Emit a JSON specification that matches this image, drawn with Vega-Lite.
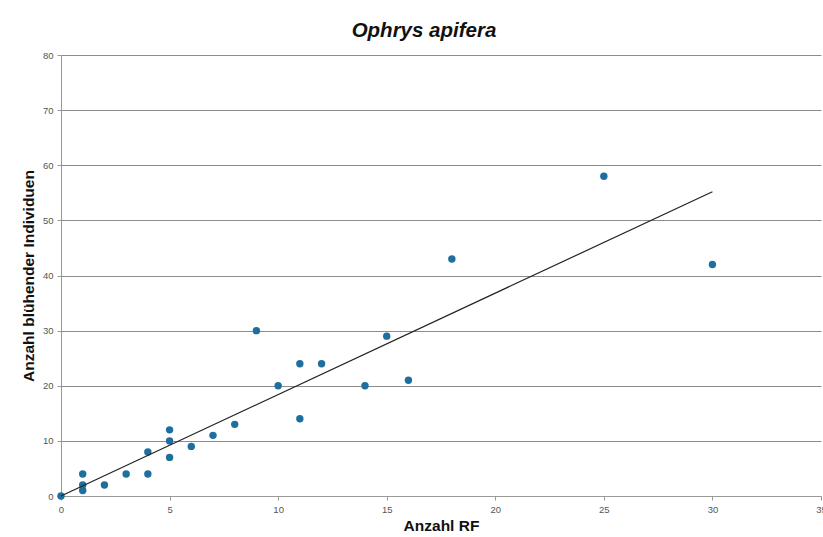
{
  "$schema": "https://vega.github.io/schema/vega-lite/v6.json",
  "width": 760,
  "height": 441,
  "autosize": "none",
  "padding": {"left": 61, "top": 55, "right": 2, "bottom": 41},
  "background": "white",
  "config": {
    "view": {"stroke": null},
    "axis": {"labelFont": "Liberation Sans", "labelFontSize": 9.5, "labelColor": "#555555", "titleFont": "Liberation Sans", "titleFontSize": 15.5, "titleFontWeight": "bold", "titleColor": "#111111"}
  },
  "title": {"text": "Ophrys apifera", "font": "Liberation Sans", "fontSize": 20.5, "fontStyle": "italic", "fontWeight": "bold", "color": "#111111", "anchor": "middle", "dx": -17, "offset": 9},
  "datasets": {
    "pts": [
      {"rf": 0, "ind": 0}, {"rf": 1, "ind": 4}, {"rf": 1, "ind": 2}, {"rf": 1, "ind": 1},
      {"rf": 2, "ind": 2}, {"rf": 3, "ind": 4}, {"rf": 4, "ind": 8}, {"rf": 4, "ind": 4},
      {"rf": 5, "ind": 12}, {"rf": 5, "ind": 10}, {"rf": 5, "ind": 7}, {"rf": 6, "ind": 9},
      {"rf": 7, "ind": 11}, {"rf": 8, "ind": 13}, {"rf": 9, "ind": 30}, {"rf": 10, "ind": 20},
      {"rf": 11, "ind": 24}, {"rf": 11, "ind": 14}, {"rf": 12, "ind": 24}, {"rf": 14, "ind": 20},
      {"rf": 15, "ind": 29}, {"rf": 16, "ind": 21}, {"rf": 18, "ind": 43}, {"rf": 25, "ind": 58},
      {"rf": 30, "ind": 42}
    ],
    "trend": [{"rf": 0, "ind": 0}, {"rf": 30, "ind": 55.2}]
  },
  "layer": [
    {
      "data": {"name": "pts"},
      "mark": {"type": "point", "filled": true, "size": 55, "opacity": 1, "color": "#1f6f9e"},
      "encoding": {
        "x": {"field": "rf", "type": "quantitative", "scale": {"domain": [0, 35], "nice": false}, "axis": {"title": "Anzahl RF", "values": [0, 5, 10, 15, 20, 25, 30, 35], "grid": false, "domainColor": "#999999", "tickColor": "#999999", "tickSize": 4, "labelPadding": 4, "titlePadding": 5, "labelOverlap": false, "labelBound": false, "labelFlush": false}},
        "y": {"field": "ind", "type": "quantitative", "scale": {"domain": [0, 80], "nice": false}, "axis": {"title": "Anzahl blühender Individuen", "values": [0, 10, 20, 30, 40, 50, 60, 70, 80], "grid": true, "gridColor": "#8c8c8c", "gridWidth": 1, "domainColor": "#999999", "tickColor": "#999999", "tickSize": 4, "labelPadding": 4, "titlePadding": 6}}
      }
    },
    {
      "data": {"name": "trend"},
      "mark": {"type": "line", "color": "#222222", "strokeWidth": 1.2},
      "encoding": {
        "x": {"field": "rf", "type": "quantitative"},
        "y": {"field": "ind", "type": "quantitative"}
      }
    }
  ]
}
